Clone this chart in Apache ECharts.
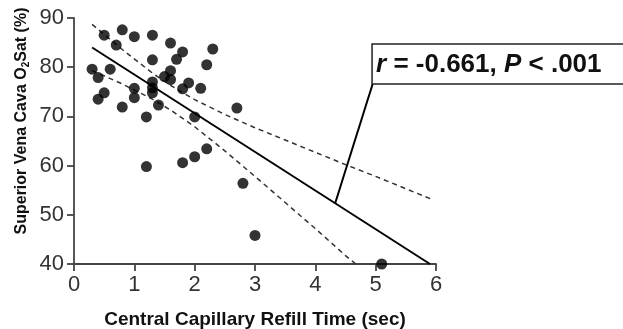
<!DOCTYPE html>
<html>
<head>
<meta charset="utf-8">
<script src="https://cdn.jsdelivr.net/npm/echarts@6/dist/echarts.min.js"></script>
<style>
html,body{margin:0;padding:0;background:#fff;}
#chart{width:623px;height:329px;}
</style>
</head>
<body>
<div id="chart"></div>
<script>
// Data
const xVals = [0.3,0.4,0.4,0.5,0.5,0.6,0.7,0.8,0.8,1.0,1.0,1.0,1.2,1.2,1.3,1.3,1.3,1.3,1.3,1.4,1.5,1.6,1.6,1.6,1.7,1.8,1.8,1.8,1.9,2.0,2.0,2.1,2.2,2.2,2.3,2.7,2.8,3.0,5.1];
const yVals = [79.6,77.9,73.5,86.5,74.8,79.6,84.5,87.6,71.9,86.2,75.7,73.8,69.9,59.8,86.5,81.5,77.0,75.8,74.8,72.3,78.1,84.9,79.3,77.5,81.6,83.1,75.6,60.6,76.8,69.9,61.8,75.7,80.5,63.4,83.7,71.7,56.4,45.8,40.0];

// Regression line and 95% confidence band
const fitX = [0.3, 5.9];
const fitY = [84.0, 40.0];
const upperX = [0.3,0.8,1.3,1.6,2.0,2.5,3.0,3.5,4.0,4.5,5.0,5.5,5.92];
const upperY = [88.7,83.6,78.8,76.3,73.4,70.4,67.7,65.2,62.7,60.2,57.8,55.3,53.2];
const lowerX = [0.3,0.8,1.3,1.6,2.0,2.5,3.0,3.5,4.0,4.5,4.67];
const lowerY = [79.3,76.6,73.5,71.3,67.9,63.0,57.8,52.5,47.2,41.7,40.0];

// Annotation
const leaderX = [4.33, 4.95];
const leaderY = [52.4, 76.6];
const boxAnchor = [4.94, 84.7];
const annotText = '{i|r} = -0.661, {i|P} < .001';

const xTicks = [0,1,2,3,4,5,6];
const yTicks = [40,50,60,70,80,90];

const zip = (a, b) => a.map((v, i) => [v, b[i]]);
const FONT = 'Liberation Sans, Arial, sans-serif';

const chart = echarts.init(document.getElementById('chart'), null, {renderer: 'canvas'});

const axisCommon = {
  axisLine: {show: true, lineStyle: {color: '#444', width: 1.8}},
  axisTick: {show: true, length: 7, lineStyle: {color: '#444', width: 1.8}},
  splitLine: {show: false},
  axisLabel: {color: '#333', fontSize: 22, fontFamily: FONT}
};

chart.setOption({
  animation: false,
  backgroundColor: '#fff',
  grid: {left: 74, right: 187, top: 18, bottom: 65, containLabel: false, outerBoundsMode: 'none'},
  xAxis: Object.assign({}, axisCommon, {
    type: 'value', min: xTicks[0], max: xTicks[xTicks.length - 1], interval: 1,
    name: 'Central Capillary Refill Time (sec)',
    nameLocation: 'middle', nameGap: 46,
    nameTextStyle: {color: '#111', fontSize: 19, fontWeight: 'bold', fontFamily: FONT},
    axisLabel: Object.assign({}, axisCommon.axisLabel, {margin: 10})
  }),
  yAxis: Object.assign({}, axisCommon, {
    type: 'value', min: yTicks[0], max: yTicks[yTicks.length - 1], interval: 10,
    axisLabel: Object.assign({}, axisCommon.axisLabel, {margin: 10})
  }),
  series: [
    {type: 'line', data: zip(upperX, upperY), symbol: 'none', smooth: false,
     lineStyle: {color: '#333', width: 1.5, type: [5, 4]}, z: 2},
    {type: 'line', data: zip(lowerX, lowerY), symbol: 'none',
     lineStyle: {color: '#333', width: 1.5, type: [5, 4]}, z: 2},
    {type: 'line', data: zip(fitX, fitY), symbol: 'none',
     lineStyle: {color: '#000', width: 2}, z: 3},
    {type: 'line', data: zip(leaderX, leaderY), symbol: 'none', clip: false,
     lineStyle: {color: '#000', width: 2}, z: 3},
    {type: 'scatter', data: zip(xVals, yVals), symbol: 'circle', symbolSize: 11,
     itemStyle: {color: '#000'}, clip: false, z: 4}
  ]
});

const p = chart.convertToPixel({gridIndex: 0}, boxAnchor);
const pBottom = chart.convertToPixel({gridIndex: 0}, [boxAnchor[0], leaderY[1]]);
const boxH = pBottom[1] - p[1];

chart.setOption({
  graphic: [
    {type: 'rect', shape: {x: p[0], y: p[1], width: 280, height: boxH},
     style: {fill: '#fff', stroke: '#222', lineWidth: 1.5}, z: 10},
    {type: 'text', x: p[0] + 4, y: p[1] + boxH / 2 + 1, z: 11,
     style: {text: annotText, fill: '#111', font: 'bold 26px ' + FONT,
             verticalAlign: 'middle', align: 'left',
             rich: {i: {fontStyle: 'italic', fontWeight: 'bold', fontSize: 26, fontFamily: FONT, fill: '#111'}}}},
    {type: 'text', x: 22, y: 121, rotation: Math.PI / 2, z: 11,
     style: {text: 'Superior Vena Cava O{sub|2}Sat (%)', fill: '#111',
             font: 'bold 16px ' + FONT, align: 'center', verticalAlign: 'middle',
             rich: {sub: {fontSize: 10, fontWeight: 'bold', fontFamily: FONT, fill: '#111', padding: [8, 0, 0, 0]}}}}
  ]
});
</script>
</body>
</html>
